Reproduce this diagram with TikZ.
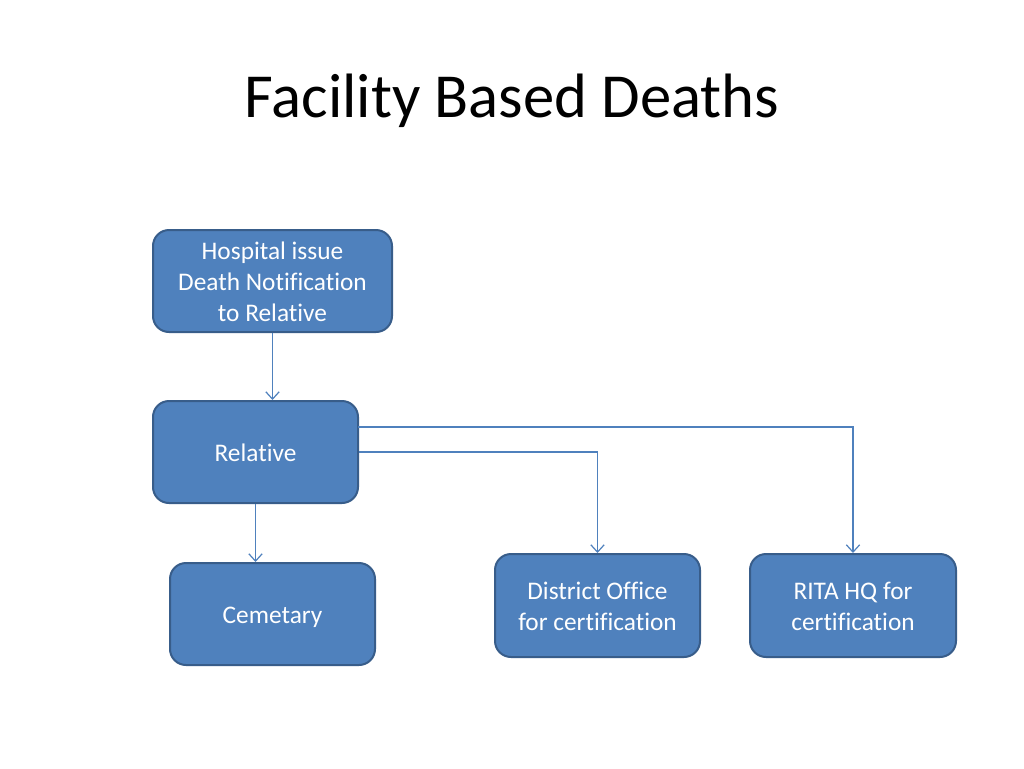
\documentclass[tikz,border=0pt]{standalone}
\usepackage{fontspec}
\setmainfont{Carlito}[Ligatures=NoCommon]
\usetikzlibrary{arrows.meta}
\definecolor{boxfill}{HTML}{4F81BD}
\definecolor{boxline}{HTML}{385D8A}
\definecolor{conn}{HTML}{4F81BD}
\newcommand{\boxtext}[1]{\raisebox{-2.5pt}[\height][\depth]{\begin{tabular}{@{}c@{}}#1\end{tabular}}}
\tikzset{
  flowbox/.style={rectangle, rounded corners=12pt, fill=boxfill, draw=boxline,
    line width=1.5pt, text=white,
    font=\fontsize{19pt}{23.3pt}\selectfont, inner sep=0pt},
  arr/.style={draw=conn, line width=0.9pt,
    -{Straight Barb[length=5.5pt,width=10pt,line width=0.9pt]}}
}
\begin{document}
\begin{tikzpicture}[x=0.75pt,y=-0.75pt]
\useasboundingbox (0,0) rectangle (1024,768);
\fill[white] (0,0) rectangle (1024,768);
\node[font=\fontsize{47pt}{56pt}\selectfont, anchor=base] (title) at (512,117) {Facility Based Deaths};
\node[flowbox, minimum width=239*0.75pt, minimum height=102*0.75pt] (hosp) at (272.5,281) {\boxtext{Hospital issue\\Death Notification\\to Relative}};
\node[flowbox, minimum width=205*0.75pt, minimum height=102*0.75pt] (rel) at (255.5,452) {\boxtext{Relative}};
\node[flowbox, minimum width=205*0.75pt, minimum height=102*0.75pt] (cem) at (272.5,614) {\boxtext{Cemetary}};
\node[flowbox, minimum width=205*0.75pt, minimum height=103*0.75pt] (dist) at (597.5,605.5) {\boxtext{District Office\\for certification}};
\node[flowbox, minimum width=206*0.75pt, minimum height=103*0.75pt] (rita) at (853,605.5) {\boxtext{RITA HQ for\\certification}};
\coordinate (relup) at (358,427);
\draw[arr] (hosp.south) -- (hosp.south |- rel.north);
\draw[arr] (rel.south) -- (rel.south |- cem.north);
\draw[arr] (rel.east) -| (dist.north);
\draw[arr] (relup) -| (rita.north);
\end{tikzpicture}
\end{document}
